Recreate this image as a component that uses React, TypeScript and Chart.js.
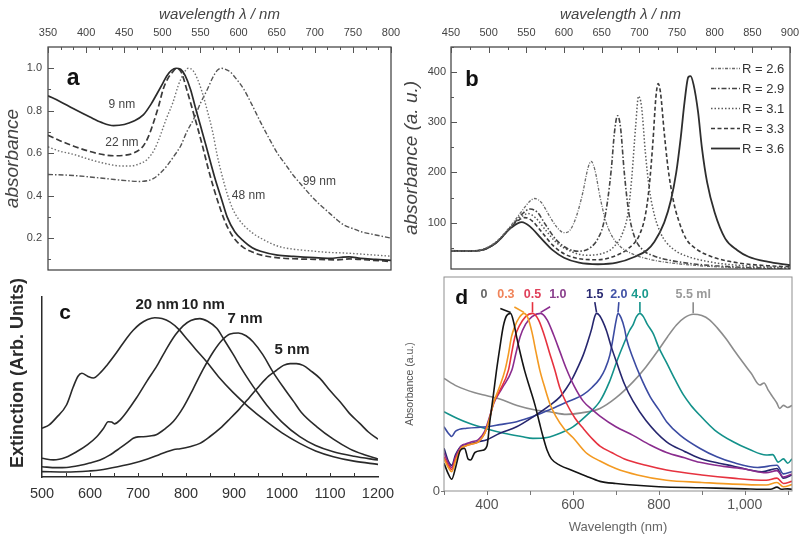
import React, { useEffect, useRef } from 'react';
import { Chart, registerables } from 'chart.js';

Chart.register(...registerables);

type Pt = [number, number];
const SANS = '"Liberation Sans", Arial, Helvetica, sans-serif';

/* ---------------- panel a : absorbance vs wavelength, 4 sizes ---------------- */
const aYTicks = [0.2, 0.4, 0.6, 0.8, 1.0];
const aNames = ['9 nm', '22 nm', '48 nm', '99 nm'];
const a9nm: Pt[] = [[350,0.87],[365,0.845],[383,0.81],[405,0.77],[420,0.745],[436,0.73],[450,0.735],[462,0.75],[475,0.78],[485,0.83],[493,0.88],[500,0.925],[506,0.965],[512,0.99],[518,1.0],[524,0.995],[530,0.965],[537,0.9],[543,0.82],[550,0.73],[557,0.64],[563,0.56],[570,0.47],[578,0.38],[585,0.3],[595,0.23],[607,0.185],[618,0.155],[629,0.138],[651,0.12],[672,0.114],[700,0.108],[720,0.105],[735,0.11],[745,0.112],[760,0.105],[780,0.1],[800,0.095]];
const a22nm: Pt[] = [[350,0.684],[365,0.66],[383,0.634],[405,0.608],[420,0.595],[436,0.588],[450,0.59],[462,0.6],[475,0.634],[482,0.68],[488,0.74],[495,0.82],[501,0.9],[507,0.95],[513,0.98],[519,1.0],[525,0.98],[532,0.9],[540,0.8],[547,0.71],[553,0.63],[560,0.53],[567,0.44],[574,0.36],[582,0.28],[592,0.21],[605,0.16],[618,0.135],[630,0.12],[650,0.108],[672,0.103],[700,0.1],[730,0.098],[745,0.102],[770,0.097],[800,0.09]];
const a48nm: Pt[] = [[350,0.63],[365,0.61],[383,0.595],[405,0.57],[427,0.55],[445,0.54],[458,0.54],[470,0.55],[480,0.57],[490,0.62],[497,0.68],[505,0.76],[514,0.84],[521,0.92],[528,0.975],[534,1.0],[540,0.99],[546,0.95],[552,0.89],[559,0.8],[566,0.7],[572,0.59],[578,0.5],[585,0.41],[592,0.34],[600,0.29],[607,0.26],[618,0.225],[629,0.2],[651,0.163],[672,0.148],[695,0.14],[717,0.133],[739,0.13],[760,0.125],[780,0.12],[800,0.115]];
const a99nm: Pt[] = [[350,0.5],[383,0.495],[427,0.48],[455,0.47],[470,0.467],[480,0.47],[488,0.48],[497,0.505],[506,0.54],[515,0.585],[524,0.634],[532,0.7],[541,0.76],[550,0.835],[559,0.9],[566,0.955],[572,0.99],[577,1.0],[583,0.995],[589,0.983],[597,0.95],[607,0.9],[618,0.825],[629,0.745],[640,0.67],[651,0.6],[662,0.545],[672,0.495],[684,0.445],[695,0.4],[706,0.36],[717,0.325],[728,0.29],[739,0.26],[750,0.245],[761,0.23],[780,0.215],[800,0.2]];

/* ---------------- panel b : absorbance vs wavelength, aspect ratio R ---------------- */
const bYTicks = [100, 200, 300, 400];
const bNames = ['R = 2.6', 'R = 2.9', 'R = 3.1', 'R = 3.3', 'R = 3.6'];
const bR26: Pt[] = [[450,44],[470,43],[490,46],[510,62],[530,95],[545,125],[555,143],[561,148],[570,140],[580,115],[590,92],[600,80],[608,85],[617,115],[625,160],[632,210],[636,222],[641,205],[648,150],[655,105],[663,75],[675,52],[690,38],[710,28],[740,20],[780,14],[830,10],[900,7]];
const bR29: Pt[] = [[450,44],[470,43],[490,45],[510,60],[530,92],[545,118],[555,127],[565,120],[575,97],[590,65],[605,48],[620,43],[635,50],[645,68],[652,95],[658,145],[663,210],[667,280],[671,313],[675,290],[680,200],[686,120],[694,70],[705,45],[720,33],[740,25],[770,18],[800,14],[850,10],[900,8]];
const bR31: Pt[] = [[450,44],[470,43],[490,45],[510,60],[530,92],[545,113],[552,118],[562,110],[575,86],[590,60],[610,42],[630,35],[650,38],[665,50],[678,80],[685,120],[690,190],[695,290],[699,352],[703,330],[708,240],[713,170],[720,115],[728,80],[735,62],[750,42],[765,32],[800,20],[850,13],[900,10]];
const bR33: Pt[] = [[450,44],[470,43],[490,45],[510,60],[530,92],[540,105],[548,110],[558,103],[570,82],[585,55],[600,38],[620,28],[645,26],[665,32],[685,48],[700,75],[708,115],[713,170],[718,260],[722,350],[725,377],[728,360],[733,280],[738,210],[745,145],[752,105],[762,68],[775,48],[796,32],[830,20],[870,14],[900,12]];
const bR36: Pt[] = [[450,44],[470,43],[490,45],[510,60],[530,90],[544,101],[555,92],[570,68],[585,45],[600,30],[620,20],[645,17],[670,20],[694,32],[710,45],[720,62],[733,100],[742,145],[749,200],[755,270],[760,340],[765,390],[768,392],[772,375],[778,320],[783,250],[790,180],[800,120],[814,68],[830,45],[845,32],[870,22],[900,15]];

/* ---------------- panel c : extinction, 4 sizes ---------------- */
const cNames = ['20 nm', '10 nm', '7 nm', '5 nm'];
const c20nm: Pt[] = [[500,27],[515,29],[530,33],[551,40],[565,50],[575,56],[583,57.6],[595,56],[607,55],[620,57.5],[635,62],[655,69],[676,77],[690,81.5],[704,85],[720,87.5],[735,88.5],[750,88],[767,86],[785,82],[801,77],[820,71],[843,64],[870,55],[898,47],[930,39],[968,30.7],[1000,24.5],[1037,18.7],[1070,14.5],[1107,11.3],[1150,8.8],[1200,7]];
const c10nm: Pt[] = [[500,10.4],[524,9.5],[550,11],[572,14],[595,18],[614,22.4],[628,27],[638,30.7],[645,30.5],[651,29.5],[662,31.5],[676,36],[697,44],[718,53],[740,62],[760,71.5],[778,79],[794,84],[810,87],[829,88],[845,86.5],[864,82.6],[880,76],[899,67.8],[915,60.5],[933,53],[950,46.5],[968,40],[1000,30.5],[1037,22.4],[1070,17.5],[1107,14],[1150,11.5],[1200,9.4]];
const c7nm: Pt[] = [[500,5.7],[530,5.2],[551,5.3],[580,6.5],[600,7.8],[621,9.4],[640,12],[662,16],[680,19.5],[690,21.5],[700,22.3],[711,22.4],[725,22.8],[738,23.5],[755,26.5],[774,31],[795,39],[815,49],[835,59.5],[857,69.6],[875,76],[892,79.5],[909,80],[925,78.5],[940,75],[960,68],[982,58],[1005,49],[1024,42],[1040,36],[1072,28],[1107,21],[1142,15.5],[1170,12.5],[1200,10]];
const c5nm: Pt[] = [[500,3],[551,2.8],[600,3.4],[621,3.9],[660,5.8],[690,7.6],[720,10],[745,12.5],[760,14],[775,15.3],[788,15.7],[810,17],[829,18.7],[850,22.5],[871,27],[892,32.5],[912,38],[933,44.5],[954,51],[972,56],[989,59.4],[1003,62],[1017,63],[1030,63],[1044,62],[1060,59],[1079,54.8],[1100,48],[1121,41.8],[1140,35.5],[1162,29.8],[1180,25],[1200,21]];

/* ---------------- panel d : absorbance vs wavelength, added volume ---------------- */
const dXTicks = [400, 600, 800, 1000];
const dYTicks = [0];
const dNames = ['0', '0.3', '0.5', '1.0', '1.5', '2.0', '4.0', '5.5 ml'];
const dNameX = [393, 444, 506, 565, 651, 707, 756, 880];
const d00: Pt[] = [[300,13],[310,8],[318,5.5],[327,11],[338,19],[348,20],[356,15],[362,14.5],[372,18],[390,19],[400,21],[407,33],[415,45],[422,56],[430,67],[438,77],[446,82],[455,83],[462,79],[469,72],[478,64],[488,56],[500,48],[512,40],[522,32],[531,25],[540,19],[550,15],[570,12],[600,9.5],[630,7],[663,4.5],[700,3.5],[800,2],[900,1.5],[1000,1],[1060,0.8],[1075,1.8],[1085,0.8],[1100,1],[1110,0.8]];
const d03: Pt[] = [[300,15],[310,11],[318,9],[327,14],[340,20],[350,21],[365,22],[380,23],[395,27],[405,33],[415,41],[428,48],[442,56.5],[450,64],[457,72],[465,77],[475,81],[486,83],[495,81],[505,74],[514,65],[523,56.5],[535,48],[546,41],[560,35],[580,29],[600,25],[630,18],[663,14],[700,10.5],[750,7.5],[818,5],[900,4],[972,3.2],[1050,2.8],[1075,4],[1090,2],[1110,3]];
const d05: Pt[] = [[300,16],[310,12],[318,10],[327,15],[340,20],[350,21],[365,22],[380,23],[395,27],[405,33],[415,41],[430,47],[450,56.5],[458,65],[465,72],[475,77],[490,81.5],[506,83],[520,80],[533,73],[545,65],[558,56.5],[570,48],[585,41],[605,34],[625,29],[647,24],[663,21],[690,18],[720,15],[770,12],[818,9.8],[900,7.5],[972,6],[1050,5],[1075,6],[1090,3.5],[1110,4.5]];
const d10: Pt[] = [[300,18],[310,13],[318,11],[327,16],[340,21],[350,22],[365,23],[380,24],[395,28],[405,34],[416,41],[435,48],[458,56.5],[467,64],[477,72],[490,78],[505,81.5],[525,83],[540,80],[555,73],[570,65],[585,57],[603,49],[624,42],[645,38],[663,35],[700,30],[740,26],[780,21.5],[818,18],[860,15.5],[895,13.4],[950,11.5],[1000,10.3],[1050,8.5],[1075,9.5],[1090,6.5],[1110,8]];
const d15: Pt[] = [[300,20],[310,14],[318,12],[327,17],[340,21],[360,22],[380,23],[400,24],[430,27],[469,30],[510,35],[546,40],[570,44],[585,48],[600,53],[612,58],[624,63.5],[635,70],[644,76],[650,81],[655,83],[662,82],[670,79],[678,75],[690,67],[702,60],[720,50],[740,42],[770,33],[818,23],[860,18.5],[895,15.3],[940,13],[972,11.7],[1040,9],[1075,10.5],[1090,6],[1110,7.5]];
const d20: Pt[] = [[300,30],[310,27],[318,25.5],[327,28],[353,29.3],[400,30],[430,31],[469,32.4],[510,35],[546,38],[585,41.5],[624,45],[645,48.5],[663,52.6],[675,57],[686,63.5],[694,72],[700,79],[705,83],[712,81],[720,76],[725,71],[740,62],[756,54],[780,44],[800,38],[818,32.4],[850,26],[895,20],[935,16],[972,13.4],[1030,11],[1075,12],[1090,8],[1110,9]];
const d40: Pt[] = [[300,37],[330,34],[360,31.5],[400,29],[440,27],[480,25.5],[507,24.6],[540,25],[570,27],[600,30],[630,35],[663,42],[685,51],[703,61],[720,69.5],[732,75],[740,77.6],[748,81.5],[756,83],[764,81.5],[773,78],[787,73.5],[800,67],[818,60],[838,52],[857,45],[875,40],[895,35.5],[930,28.5],[973,23],[1010,19.5],[1050,16.8],[1065,17],[1078,13.5],[1090,15],[1100,13],[1110,15]];
const d55: Pt[] = [[300,52.6],[330,49],[370,46],[400,44.5],[430,43],[470,40],[510,38],[546,37],[585,35.8],[620,36.5],[663,38.6],[700,43.5],[740,51],[770,58],[802,66.7],[820,72],[841,77.6],[860,81],[880,82.6],[900,82],[918,80],[937,76],[957,71],[976,65.5],[996,60],[1015,55],[1035,49.5],[1045,50.5],[1055,47],[1065,44],[1075,41],[1081,38.6],[1090,40],[1100,39],[1110,40]];

/* ---------------- helpers ---------------- */
const toXY = (pts: Pt[]) => pts.map(([x, y]) => ({ x, y }));
const ds = (label: string, pts: Pt[], color: string, width: number, dash: number[] = []) => ({
  label,
  data: toXY(pts),
  borderColor: color,
  backgroundColor: color,
  borderWidth: width,
  borderDash: dash,
  pointRadius: 0,
  fill: false,
  cubicInterpolationMode: 'monotone',
  borderJoinStyle: 'round',
});
const range = (a: number, b: number, step: number) => {
  const out: number[] = [];
  for (let v = a; v <= b + 1e-9; v += step) out.push(+v.toFixed(4));
  return out;
};
const fixW = (w: number) => (s: any) => {
  s.width = w; s.paddingTop = 0; s.paddingBottom = 0; s.paddingLeft = 0; s.paddingRight = 0;
};
const fixH = (h: number) => (s: any) => {
  s.height = h; s.paddingTop = 0; s.paddingBottom = 0; s.paddingLeft = 0; s.paddingRight = 0;
};
const setTicks = (vals: number[]) => (s: any) => { s.ticks = vals.map((v) => ({ value: v })); };
const font = (size: number, extra: any = {}) => ({ family: SANS, size, ...extra });
const plain = (v: any) => String(v);

const framePlugin = (color: string, width: number) => ({
  id: 'frame',
  afterDatasetsDraw(chart: any) {
    const { ctx, chartArea: a } = chart;
    ctx.save();
    ctx.strokeStyle = color;
    ctx.lineWidth = width;
    ctx.strokeRect(a.left, a.top, a.right - a.left, a.bottom - a.top);
    ctx.restore();
  },
});

type TickSet = { axis: 'x' | 'y'; edge: 'top' | 'bottom' | 'left'; values: number[]; len: number; inward: boolean; color: string };
const tickPlugin = (sets: TickSet[]) => ({
  id: 'edgeTicks',
  afterDatasetsDraw(chart: any) {
    const { ctx, chartArea: a, scales } = chart;
    ctx.save();
    for (const t of sets) {
      ctx.strokeStyle = t.color;
      ctx.lineWidth = 1;
      ctx.beginPath();
      for (const v of t.values) {
        if (t.axis === 'x') {
          const px = Math.round(scales.x.getPixelForValue(v)) + 0.5;
          const y0 = t.edge === 'top' ? a.top : a.bottom;
          const sgn = (t.edge === 'top' ? 1 : -1) * (t.inward ? 1 : -1);
          ctx.moveTo(px, y0);
          ctx.lineTo(px, y0 + sgn * t.len);
        } else {
          const py = Math.round(scales.y.getPixelForValue(v)) + 0.5;
          const sgn = t.inward ? 1 : -1;
          ctx.moveTo(a.left, py);
          ctx.lineTo(a.left + sgn * t.len, py);
        }
      }
      ctx.stroke();
    }
    ctx.restore();
  },
});

type TextMark = { text: string; x: number; y: number; font: string; color: string };
const textPlugin = (marks: TextMark[]) => ({
  id: 'textMarks',
  afterDatasetsDraw(chart: any) {
    const { ctx, scales } = chart;
    ctx.save();
    ctx.textAlign = 'center';
    ctx.textBaseline = 'middle';
    for (const m of marks) {
      ctx.font = m.font;
      ctx.fillStyle = m.color;
      ctx.fillText(m.text, scales.x.getPixelForValue(m.x), scales.y.getPixelForValue(m.y));
    }
    ctx.restore();
  },
});

// rotated axis title, placed relative to the chart area (x offset left of it, y shift from its centre)
const sideTitle = (text: string, fnt: string, color: string, dxFromLeft: number, dyFromCenter: number) => ({
  id: 'sideTitle',
  afterDraw(chart: any) {
    const { ctx, chartArea: a } = chart;
    ctx.save();
    ctx.translate(a.left - dxFromLeft, (a.top + a.bottom) / 2 + dyFromCenter);
    ctx.rotate(-Math.PI / 2);
    ctx.font = fnt;
    ctx.fillStyle = color;
    ctx.textAlign = 'center';
    ctx.textBaseline = 'middle';
    ctx.fillText(text, 0, 0);
    ctx.restore();
  },
});

const insetLegend = {
  id: 'insetLegend',
  afterDatasetsDraw(chart: any) {
    const { ctx, chartArea: a } = chart;
    ctx.save();
    chart.data.datasets.forEach((d: any, i: number) => {
      const y = a.top + 21.5 + i * 20;
      ctx.strokeStyle = d.borderColor;
      ctx.lineWidth = d.borderWidth;
      ctx.setLineDash(d.borderDash || []);
      ctx.beginPath();
      ctx.moveTo(a.right - 79, y);
      ctx.lineTo(a.right - 50, y);
      ctx.stroke();
      ctx.setLineDash([]);
      ctx.fillStyle = '#333';
      ctx.font = `13px ${SANS}`;
      ctx.textAlign = 'left';
      ctx.textBaseline = 'middle';
      ctx.fillText(d.label, a.right - 48, y + 1);
    });
    ctx.restore();
  },
};

const dLabelColors = ['#666', '#f0845a', '#e0405a', '#8a3f8c', '#2a2a72', '#4152a6', '#1a9a8e', '#9a9a9a'];
const peakLabels = (labelY: number) => ({
  id: 'peakLabels',
  afterDatasetsDraw(chart: any) {
    const { ctx, scales } = chart;
    const { x, y } = scales;
    ctx.save();
    chart.data.datasets.forEach((d: any, i: number) => {
      let best = d.data[0];
      for (const p of d.data) if (p.y > best.y) best = p;
      const px = x.getPixelForValue(best.x);
      const py = y.getPixelForValue(best.y);
      const lx = x.getPixelForValue(dNameX[i]);
      const ly = y.getPixelForValue(labelY);
      ctx.font = `bold 12.5px ${SANS}`;
      ctx.fillStyle = dLabelColors[i];
      ctx.textAlign = 'center';
      ctx.textBaseline = 'middle';
      ctx.fillText(dNames[i], lx, ly);
      const dx = lx - px;
      const dy = ly + 9 - py;
      const L = Math.hypot(dx, dy) || 1;
      const seg = Math.min(L, 11);
      ctx.strokeStyle = d.borderColor;
      ctx.lineWidth = 1.6;
      ctx.beginPath();
      ctx.moveTo(px, py - 1);
      ctx.lineTo(px + (dx / L) * seg, py - 1 + (dy / L) * seg);
      ctx.stroke();
    });
    ctx.restore();
  },
});

const base = (padding: any) => ({
  responsive: false,
  animation: false,
  events: [],
  layout: { padding },
  plugins: { legend: { display: false }, tooltip: { enabled: false } },
});

/* ---------------- chart configs ---------------- */
const makeA = () => ({
  type: 'line',
  data: {
    datasets: [
      ds(aNames[0], a9nm, '#2b2b2b', 1.7),
      ds(aNames[1], a22nm, '#3a3a3a', 1.7, [6, 3]),
      ds(aNames[2], a48nm, '#707070', 1.4, [1.5, 2]),
      ds(aNames[3], a99nm, '#555', 1.4, [5, 2, 1.5, 2]),
    ],
  },
  options: {
    ...base({ left: 0, top: 0, right: 9, bottom: 7 }),
    scales: {
      x: {
        type: 'linear', position: 'top', min: 350, max: 800,
        ticks: { stepSize: 50, autoSkip: false, maxRotation: 0, padding: 7, color: '#444', font: font(11), callback: plain },
        grid: { display: false, drawTicks: false }, border: { display: false },
        title: { display: true, text: 'wavelength λ / nm', color: '#444', font: font(15, { style: 'italic' }), padding: { top: 6, bottom: 0 } },
        afterFit: fixH(47),
      },
      y: {
        type: 'linear', min: 0.05, max: 1.1, afterBuildTicks: setTicks(aYTicks),
        ticks: { padding: 6, color: '#444', font: font(11), callback: (v: any) => Number(v).toFixed(1) },
        grid: { display: false, drawTicks: false }, border: { display: false },
        title: { display: true, text: 'absorbance', color: '#444', font: font(19, { style: 'italic' }), padding: { top: 1, bottom: 0 } },
        afterFit: fixW(48),
      },
    },
  },
  plugins: [
    framePlugin('#3a3a3a', 1.2),
    tickPlugin([
      { axis: 'x', edge: 'top', values: range(350, 800, 50 / 3), len: 3, inward: true, color: '#555' },
      { axis: 'x', edge: 'top', values: range(350, 800, 50), len: 6, inward: true, color: '#555' },
      { axis: 'y', edge: 'left', values: range(0.1, 1.0, 0.1), len: 3, inward: true, color: '#555' },
      { axis: 'y', edge: 'left', values: aYTicks, len: 6, inward: true, color: '#555' },
    ]),
    textPlugin([
      { text: aNames[0], x: 447, y: 0.83, font: `12px ${SANS}`, color: '#444' },
      { text: aNames[1], x: 447, y: 0.65, font: `12px ${SANS}`, color: '#444' },
      { text: aNames[2], x: 613, y: 0.40, font: `12px ${SANS}`, color: '#444' },
      { text: aNames[3], x: 706, y: 0.465, font: `12px ${SANS}`, color: '#444' },
      { text: 'a', x: 383, y: 0.953, font: `bold 23px ${SANS}`, color: '#111' },
    ]),
  ],
});

const makeB = () => ({
  type: 'line',
  data: {
    datasets: [
      ds(bNames[0], bR26, '#6a6a6a', 1.3, [3, 1.5, 1, 1.5]),
      ds(bNames[1], bR29, '#444', 1.6, [5, 2, 1.5, 2]),
      ds(bNames[2], bR31, '#5a5a5a', 1.5, [1.5, 2]),
      ds(bNames[3], bR33, '#3a3a3a', 1.6, [4, 2.5]),
      ds(bNames[4], bR36, '#2e2e2e', 1.8),
    ],
  },
  options: {
    ...base({ left: 0, top: 0, right: 10, bottom: 3 }),
    scales: {
      x: {
        type: 'linear', position: 'top', min: 450, max: 900,
        ticks: { stepSize: 50, autoSkip: false, maxRotation: 0, padding: 7, color: '#444', font: font(11), callback: plain },
        grid: { display: false, drawTicks: false }, border: { display: false },
        title: { display: true, text: 'wavelength λ / nm', color: '#444', font: font(15, { style: 'italic' }), padding: { top: 6, bottom: 0 } },
        afterFit: fixH(47),
      },
      y: {
        type: 'linear', min: 7.5, max: 450, afterBuildTicks: setTicks(bYTicks),
        ticks: { padding: 5, color: '#444', font: font(11), callback: plain },
        grid: { display: false, drawTicks: false }, border: { display: false },
        title: { display: true, text: 'absorbance (a. u.)', color: '#444', font: font(19, { style: 'italic' }), padding: { top: 0, bottom: 0 } },
        afterFit: fixW(51),
      },
    },
  },
  plugins: [
    framePlugin('#3a3a3a', 1.2),
    tickPlugin([
      { axis: 'x', edge: 'top', values: range(450, 900, 25), len: 3, inward: true, color: '#555' },
      { axis: 'x', edge: 'top', values: range(450, 900, 50), len: 6, inward: true, color: '#555' },
      { axis: 'y', edge: 'left', values: range(50, 450, 50), len: 3, inward: true, color: '#555' },
      { axis: 'y', edge: 'left', values: bYTicks, len: 6, inward: true, color: '#555' },
    ]),
    insetLegend,
    textPlugin([{ text: 'b', x: 478, y: 385, font: `bold 22px ${SANS}`, color: '#111' }]),
  ],
});

const makeC = () => ({
  type: 'line',
  data: {
    datasets: [
      ds(cNames[0], c20nm, '#2a2a2a', 1.6),
      ds(cNames[1], c10nm, '#2a2a2a', 1.6),
      ds(cNames[2], c7nm, '#2a2a2a', 1.6),
      ds(cNames[3], c5nm, '#2a2a2a', 1.6),
    ],
  },
  options: {
    ...base({ left: 0, top: 20, right: 22, bottom: 0 }),
    scales: {
      x: {
        type: 'linear', position: 'bottom', min: 500, max: 1200,
        ticks: { stepSize: 100, autoSkip: false, maxRotation: 0, padding: 8, color: '#333', font: font(14.5), callback: plain },
        grid: { display: false, drawTicks: false }, border: { display: true, color: '#2a2a2a', width: 1.5 },
        afterFit: fixH(60),
      },
      y: {
        type: 'linear', min: 0, max: 100,
        ticks: { display: false },
        grid: { display: false, drawTicks: false }, border: { display: true, color: '#2a2a2a', width: 1.5 },
        afterFit: fixW(42),
      },
    },
  },
  plugins: [
    tickPlugin([{ axis: 'x', edge: 'bottom', values: range(550, 1150, 50), len: 4, inward: true, color: '#333' }]),
    sideTitle('Extinction (Arb. Units)', `bold 18px ${SANS}`, '#2a2a2a', 24, -14),
    textPlugin([
      { text: cNames[0], x: 740, y: 95.5, font: `bold 15px ${SANS}`, color: '#222' },
      { text: cNames[1], x: 836, y: 95.5, font: `bold 15px ${SANS}`, color: '#222' },
      { text: cNames[2], x: 923, y: 88, font: `bold 15px ${SANS}`, color: '#222' },
      { text: cNames[3], x: 1021, y: 70.5, font: `bold 15px ${SANS}`, color: '#222' },
      { text: 'c', x: 548, y: 91, font: `bold 21px ${SANS}`, color: '#111' },
    ]),
  ],
});

const makeD = () => ({
  type: 'line',
  data: {
    datasets: [
      ds(dNames[0], d00, '#141414', 1.6),
      ds(dNames[1], d03, '#f39a22', 1.6),
      ds(dNames[2], d05, '#e6323f', 1.6),
      ds(dNames[3], d10, '#8a2c8e', 1.6),
      ds(dNames[4], d15, '#26266e', 1.6),
      ds(dNames[5], d20, '#3b4ba2', 1.6),
      ds(dNames[6], d40, '#13918a', 1.6),
      ds(dNames[7], d55, '#8c8c8c', 1.6),
    ],
  },
  options: {
    ...base({ left: 0, top: 5, right: 8, bottom: 0 }),
    scales: {
      x: {
        type: 'linear', position: 'bottom', min: 300, max: 1110, afterBuildTicks: setTicks(dXTicks),
        ticks: { autoSkip: false, maxRotation: 0, padding: 6, color: '#555', font: font(14), callback: (v: any) => Number(v).toLocaleString('en-US') },
        grid: { display: false, drawTicks: false }, border: { display: false },
        title: { display: true, text: 'Wavelength (nm)', color: '#666', font: font(13), padding: { top: 0, bottom: 2 } },
        afterFit: fixH(46),
      },
      y: {
        type: 'linear', min: 0, max: 100, afterBuildTicks: setTicks(dYTicks),
        ticks: { padding: 4, color: '#555', font: font(13), callback: plain },
        grid: { display: false, drawTicks: false }, border: { display: false },
        title: { display: true, text: 'Absorbance (a.u.)', color: '#555', font: font(10.5), padding: { top: 4, bottom: 0 } },
        afterFit: fixW(44),
      },
    },
  },
  plugins: [
    framePlugin('#8f8f8f', 1),
    tickPlugin([
      { axis: 'x', edge: 'bottom', values: range(300, 1100, 100), len: 4, inward: false, color: '#777' },
      { axis: 'y', edge: 'left', values: dYTicks, len: 3, inward: false, color: '#777' },
    ]),
    peakLabels(92),
    textPlugin([{ text: 'd', x: 341, y: 90, font: `bold 21px ${SANS}`, color: '#111' }]),
  ],
});

function ChartBox({ left, top, width, height, make }: any) {
  const ref = useRef<HTMLCanvasElement>(null);
  useEffect(() => {
    const chart = new Chart(ref.current as HTMLCanvasElement, make() as any);
    return () => chart.destroy();
  }, [make]);
  return (
    <div style={{ position: 'absolute', left, top, width, height }}>
      <canvas ref={ref} width={width} height={height} style={{ display: 'block', width, height }} />
    </div>
  );
}

export default function App() {
  return (
    <div style={{ position: 'absolute', left: 0, top: 0, width: 800, height: 537, background: '#fff', overflow: 'hidden' }}>
      <ChartBox left={0} top={0} width={400} height={277} make={makeA} />
      <ChartBox left={400} top={0} width={400} height={272} make={makeB} />
      <ChartBox left={0} top={277} width={400} height={260} make={makeC} />
      <ChartBox left={400} top={272} width={400} height={265} make={makeD} />
    </div>
  );
}
